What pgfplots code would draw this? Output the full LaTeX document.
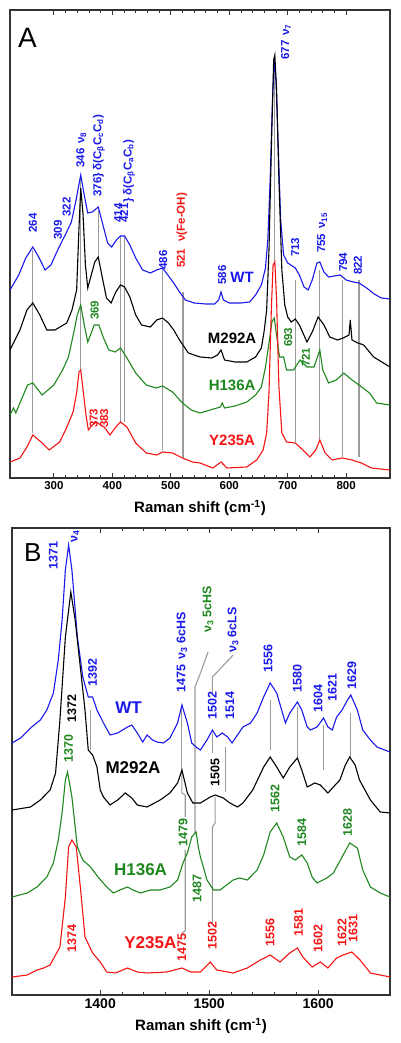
\documentclass[border=0pt]{standalone}
\usepackage{fontspec}
\setmainfont{Liberation Sans}
\usepackage{pgfplots}
\pgfplotsset{compat=1.18}
\definecolor{cblue}{RGB}{25,25,235}
\definecolor{cgreen}{RGB}{30,135,30}
\definecolor{cred}{RGB}{245,20,20}
\definecolor{cgray}{RGB}{155,155,155}
\pgfplotsset{
 myax/.style={scale only axis, anchor=south west, ytick=\empty, minor x tick num=4,
  tick align=inside, xtick pos=both, xticklabel pos=lower,
  axis line style={draw=black!80, line width=1.1pt},
  major tick length=5pt, minor tick length=3pt,
  every tick/.style={black!80, line width=0.8pt},
  /pgf/number format/1000 sep={}, /pgf/number format/assume math mode=true},
 gl/.style={cgray, line width=1.1pt, forget plot},
}
\tikzset{
 lbA/.style={rotate=90, anchor=west, inner sep=0pt, font=\fontsize{11.5}{12}\selectfont\bfseries},
 lbB/.style={rotate=90, anchor=west, inner sep=0pt, font=\fontsize{12.5}{13}\selectfont\bfseries},
 nmA/.style={anchor=center, inner sep=0pt, font=\fontsize{15}{16}\selectfont\bfseries},
 nmB/.style={anchor=center, inner sep=0pt, font=\fontsize{17}{18}\selectfont\bfseries},
}
\begin{document}
\begin{tikzpicture}
\useasboundingbox (0pt,0pt) rectangle (400pt,1043pt);
% ---------------- Panel A ----------------
\begin{axis}[myax, at={(10pt,565pt)}, width=380pt, height=468pt,
  xmin=225, xmax=875, ymin=0, ymax=468,
  xtick={300,400,500,600,700,800},
  xticklabel style={font=\fontsize{11.5}{12}\selectfont\bfseries},
  xlabel={Raman shift (cm\textsuperscript{-1})},
  xlabel style={font=\fontsize{15}{16}\selectfont\bfseries, yshift=-4pt}]
% gray guide lines
\addplot[gl] coordinates {(264,228) (264,45)};
\addplot[gl] coordinates {(346,298) (346,108)};
\addplot[gl] coordinates {(376,268) (376,220)};
\addplot[gl] coordinates {(414,241) (414,56)};
\addplot[gl] coordinates {(421,241) (421,56)};
\addplot[gl] coordinates {(486,210) (486,28)};
\addplot[gl] coordinates {(521,186) (521,20)};
\addplot[gl] coordinates {(677,418) (677,216)};
\addplot[gl] coordinates {(713,198) (713,36)};
\addplot[gl] coordinates {(755,208) (755,38)};
\addplot[gl] coordinates {(794,198) (794,21)};
\addplot[gl] coordinates {(822,198) (822,21)};
% WT
\addplot[cblue, line width=1.1pt] coordinates {(225,188) (240,203) (252,220) (264,231) (275,220) (285,208) (295,213) (305,226) (315,238) (322,246) (330,256) (338,278) (346,303) (352,283) (358,265) (366,266) (376,271) (384,253) (392,235) (399,231) (407,238) (414,242) (421,242) (430,233) (440,220) (452,208) (465,205) (476,208) (486,210) (495,203) (505,195) (515,186) (525,178) (540,175) (560,174) (575,174) (582,178) (586,186) (590,178) (600,175) (620,175) (635,176) (645,183) (655,193) (662,210) (666,238) (670,298) (674,378) (677,418) (680,398) (684,328) (688,258) (693,223) (700,215) (708,212) (713,210) (720,203) (728,191) (735,188) (742,198) (750,215) (755,216) (762,206) (770,201) (780,202) (790,203) (800,198) (812,196) (822,195) (835,190) (848,184) (860,180) (875,179)};
% M292A
\addplot[black, line width=1.1pt] coordinates {(225,128) (242,148) (254,168) (264,175) (276,163) (288,148) (302,148) (322,155) (331,168) (339,188) (343,250) (346,290) (350,263) (354,213) (358,190) (364,203) (370,216) (376,221) (382,203) (390,180) (398,175) (406,186) (414,193) (421,191) (430,181) (440,163) (450,153) (465,151) (476,158) (486,160) (496,155) (505,148) (515,138) (530,125) (550,121) (570,120) (580,123) (586,128) (592,118) (610,116) (630,116) (645,121) (655,130) (660,148) (664,168) (668,228) (672,328) (676,418) (678,423) (681,388) (685,298) (690,208) (695,173) (700,161) (706,156) (713,159) (720,153) (733,136) (742,146) (752,161) (762,153) (772,141) (785,138) (795,140) (805,143) (807,158) (810,138) (820,135) (830,133) (847,121) (875,111)};
% H136A
\addplot[cgreen, line width=1.1pt] coordinates {(225,63) (231,70) (235,65) (242,75) (255,93) (264,95) (280,83) (290,88) (300,93) (315,108) (325,121) (335,148) (340,163) (346,173) (352,153) (358,136) (364,145) (369,153) (377,153) (385,140) (394,128) (405,126) (414,130) (424,121) (440,105) (458,93) (475,90) (486,92) (503,86) (520,75) (535,68) (550,65) (585,71) (588,75) (592,70) (610,72) (630,76) (645,83) (655,91) (662,111) (668,135) (673,156) (677,160) (681,143) (686,121) (693,121) (698,108) (710,108) (721,118) (733,111) (745,111) (755,128) (760,108) (770,95) (783,98) (796,105) (810,98) (822,93) (840,85) (852,75) (875,73)};
% Y235A
\addplot[cred, line width=1.1pt] coordinates {(225,16) (242,20) (254,31) (264,43) (280,35) (292,28) (310,36) (320,48) (333,66) (339,85) (343,106) (346,108) (350,88) (355,63) (359,48) (366,53) (373,56) (380,53) (386,51) (396,43) (406,51) (414,56) (425,51) (440,35) (458,25) (476,23) (486,26) (503,25) (520,20) (537,16) (550,15) (572,10) (586,16) (596,10) (630,11) (647,18) (658,28) (664,45) (668,85) (672,168) (675,213) (678,216) (681,178) (685,91) (690,45) (698,36) (713,35) (726,28) (738,21) (748,28) (755,38) (764,25) (776,18) (793,20) (810,18) (826,15) (843,10) (875,8)};
% labels
\node[anchor=center, inner sep=0pt, font=\fontsize{28}{30}\selectfont] at (axis cs:255,440) {A};
\node[lbA, cblue] at (axis cs:264,245) {264};
\node[lbA, cblue] at (axis cs:307,238) {309};
\node[lbA, cblue] at (axis cs:322,261) {322};
\node[lbA, cblue] at (axis cs:347,310) {346\hspace{5pt}ν\textsubscript{8}};
\node[lbA, cblue] at (axis cs:377,281) {376\}\hspace{3pt}δ(C\textsubscript{β}C\textsubscript{c}C\textsubscript{d})};
\node[lbA, cblue] at (axis cs:410,255) {414};
\node[lbA, cblue] at (axis cs:420,255) {421};
\node[lbA, cblue] at (axis cs:429,275) {\}\hspace{3pt}δ(C\textsubscript{β}C\textsubscript{a}C\textsubscript{b})};
\node[lbA, cblue] at (axis cs:487,208) {486};
\node[lbA, cred] at (axis cs:519,210) {521\hspace{7pt}ν(Fe-OH)};
\node[lbA, cblue] at (axis cs:588,193) {586};
\node[nmA, cblue] at (axis cs:622,201) {WT};
\node[lbA, cblue] at (axis cs:697,418) {677\hspace{5pt}ν\textsubscript{7}};
\node[lbA, cblue] at (axis cs:713,221) {713};
\node[lbA, cblue] at (axis cs:759,225) {755\hspace{5pt}ν\textsubscript{15}};
\node[lbA, cblue] at (axis cs:795,206) {794};
\node[lbA, cblue] at (axis cs:820,203) {822};
\node[nmA, black] at (axis cs:605,140) {M292A};
\node[lbA, cgreen] at (axis cs:370,158) {369};
\node[nmA, cgreen] at (axis cs:605,93) {H136A};
\node[lbA, cgreen] at (axis cs:701,131) {693};
\node[lbA, cgreen] at (axis cs:731,111) {721};
\node[nmA, cred] at (axis cs:605,38) {Y235A};
\node[lbA, cred] at (axis cs:368,50) {373};
\node[lbA, cred] at (axis cs:386,50) {383};
\end{axis}
% ---------------- Panel B ----------------
\begin{axis}[myax, at={(12pt,48pt)}, width=378pt, height=467pt,
  xmin=1319, xmax=1666, ymin=0, ymax=467,
  xtick={1400,1500,1600},
  xticklabel style={font=\fontsize{14}{15}\selectfont\bfseries},
  xlabel={Raman shift (cm\textsuperscript{-1})},
  xlabel style={font=\fontsize{15}{16}\selectfont\bfseries, yshift=-3pt}]
% gray guide lines
\addplot[gl] coordinates {(1391,285) (1391,245)};
\addplot[gl] coordinates {(1475,290) (1475,225)};
\addplot[gl] coordinates {(1475,225) (1475,202) (1478,200) (1478,178)};
\addplot[gl] coordinates {(1478,145) (1478,64) (1475,62) (1475,60)};
\addplot[gl] coordinates {(1499,343) (1492,322) (1487,308) (1487,162)};
\addplot[gl] coordinates {(1522,340) (1503,318) (1503,302)};
\addplot[gl] coordinates {(1503,262) (1503,242)};
\addplot[gl] coordinates {(1505.5,198) (1505.5,172) (1503,168) (1503,72)};
\addplot[gl] coordinates {(1515,248) (1515,203)};
\addplot[gl] coordinates {(1556,295) (1556,245)};
\addplot[gl] coordinates {(1581,288) (1581,238)};
\addplot[gl] coordinates {(1605,270) (1605,225)};
\addplot[gl] coordinates {(1630,282) (1630,238)};
% WT
\addplot[cblue, line width=1.1pt] coordinates {(1319,252) (1327,257) (1336,267) (1345,275) (1351,285) (1357,302) (1361.5,335) (1365,375) (1368,425) (1371,450) (1374,425) (1379,358) (1384,318) (1389,298) (1393,298) (1397,285) (1403,272) (1409,260) (1416,262) (1425,268) (1429,270) (1434,262) (1439,253) (1443,260) (1448,255) (1452,253) (1458,252) (1464,257) (1471,272) (1475,290) (1480,272) (1484,252) (1489,247) (1492,245) (1498,255) (1503,265) (1507,258) (1512,262) (1517,258) (1521,252) (1526,260) (1531,268) (1538,272) (1544,282) (1550,298) (1556,312) (1562,302) (1570,272) (1574,282) (1581,293) (1585,285) (1590,268) (1593,265) (1599,268) (1605,277) (1609,268) (1613,265) (1617,278) (1622,285) (1627,295) (1630,300) (1636,285) (1641,265) (1648,255) (1654,248) (1666,243)};
% M292A
\addplot[black, line width=1.1pt] coordinates {(1319,185) (1336,188) (1345,195) (1354,205) (1359,222) (1363,275) (1368,358) (1373,403) (1377,375) (1382,325) (1386,285) (1389,245) (1393,240) (1397,228) (1400,205) (1403,198) (1409,190) (1416,195) (1423,202) (1429,197) (1434,190) (1443,188) (1455,195) (1464,202) (1471,212) (1475,225) (1480,202) (1485,192) (1492,192) (1501,198) (1505.5,200) (1513,197) (1519,192) (1526,188) (1531,192) (1540,205) (1550,228) (1556,238) (1562,228) (1568,217) (1574,228) (1581,237) (1585,225) (1590,208) (1597,212) (1602,210) (1609,202) (1614,208) (1620,215) (1625,230) (1629,238) (1634,230) (1638,215) (1648,195) (1657,183) (1666,182)};
% H136A
\addplot[cgreen, line width=1.1pt] coordinates {(1319,98) (1333,102) (1342,108) (1351,118) (1357,132) (1361.5,155) (1365,182) (1368,215) (1370,223) (1374,198) (1379,148) (1384,135) (1391,128) (1398,118) (1406,108) (1412,102) (1418,105) (1425,108) (1430,105) (1437,102) (1446,105) (1455,105) (1464,108) (1471,115) (1476,132) (1480,142) (1484,158) (1488,163) (1490,148) (1492,138) (1498,115) (1504,105) (1510,105) (1522,115) (1528,117) (1535,115) (1544,125) (1550,140) (1556,163) (1562,172) (1568,158) (1574,138) (1579,135) (1585,140) (1590,132) (1594.5,118) (1599,112) (1608,117) (1614,122) (1622,138) (1629,152) (1636,147) (1641,125) (1648,108) (1657,102) (1666,98)};
% Y235A
\addplot[cred, line width=1.1pt] coordinates {(1319,18) (1333,20) (1342,25) (1348,27) (1354,30) (1363,48) (1368,98) (1371,148) (1374,155) (1378,148) (1382,105) (1386,58) (1393,42) (1400,33) (1406,23) (1414,22) (1425,27) (1434,23) (1443,22) (1461,23) (1475,27) (1483,23) (1492,23) (1501,33) (1507,25) (1522,22) (1535,27) (1547,35) (1556,40) (1565,33) (1574,42) (1581,47) (1586,38) (1594.5,28) (1602,33) (1609,27) (1617,37) (1623,40) (1631,43) (1638.5,35) (1648,22) (1666,18)};
% labels
\node[anchor=center, inner sep=0pt, font=\fontsize{26}{28}\selectfont] at (axis cs:1338,442) {B};
\node[lbB, cblue] at (axis cs:1357,425) {1371};
\node[lbB, cblue] at (axis cs:1377,452) {ν\textsubscript{4}};
\node[lbB, cblue] at (axis cs:1393,308) {1392};
\node[lbB, black] at (axis cs:1374,272) {1372};
\node[nmB, cblue] at (axis cs:1426,287) {WT};
\node[nmB, black] at (axis cs:1430,227) {M292A};
\node[lbB, cblue] at (axis cs:1475,302) {1475\hspace{6pt}ν\textsubscript{3} 6cHS};
\node[lbB, cgreen] at (axis cs:1499,362) {ν\textsubscript{3} 5cHS};
\node[lbB, cblue] at (axis cs:1522,342) {ν\textsubscript{3} 6cLS};
\node[lbB, cblue] at (axis cs:1503,275) {1502};
\node[lbB, cblue] at (axis cs:1519,275) {1514};
\node[lbB, black] at (axis cs:1505.5,208) {1505};
\node[lbB, cblue] at (axis cs:1554,322) {1556};
\node[lbB, cblue] at (axis cs:1581,302) {1580};
\node[lbB, cblue] at (axis cs:1600,282) {1604};
\node[lbB, cblue] at (axis cs:1613,293) {1621};
\node[lbB, cblue] at (axis cs:1631,305) {1629};
\node[lbB, cgreen] at (axis cs:1371,232) {1370};
\node[nmB, cgreen] at (axis cs:1437,125) {H136A};
\node[lbB, cgreen] at (axis cs:1476,148) {1479};
\node[lbB, cgreen] at (axis cs:1489,92) {1487};
\node[lbB, cgreen] at (axis cs:1560.5,182) {1562};
\node[lbB, cgreen] at (axis cs:1585,148) {1584};
\node[lbB, cgreen] at (axis cs:1627,158) {1628};
\node[nmB, cred] at (axis cs:1446,52) {Y235A};
\node[lbB, cred] at (axis cs:1374,42) {1374};
\node[lbB, cred] at (axis cs:1475,33) {1475};
\node[lbB, cred] at (axis cs:1503,45) {1502};
\node[lbB, cred] at (axis cs:1556,48) {1556};
\node[lbB, cred] at (axis cs:1582,58) {1581};
\node[lbB, cred] at (axis cs:1600,42) {1602};
\node[lbB, cred] at (axis cs:1622,48) {1622};
\node[lbB, cred] at (axis cs:1632,52) {1631};
\end{axis}
\end{tikzpicture}
\end{document}
